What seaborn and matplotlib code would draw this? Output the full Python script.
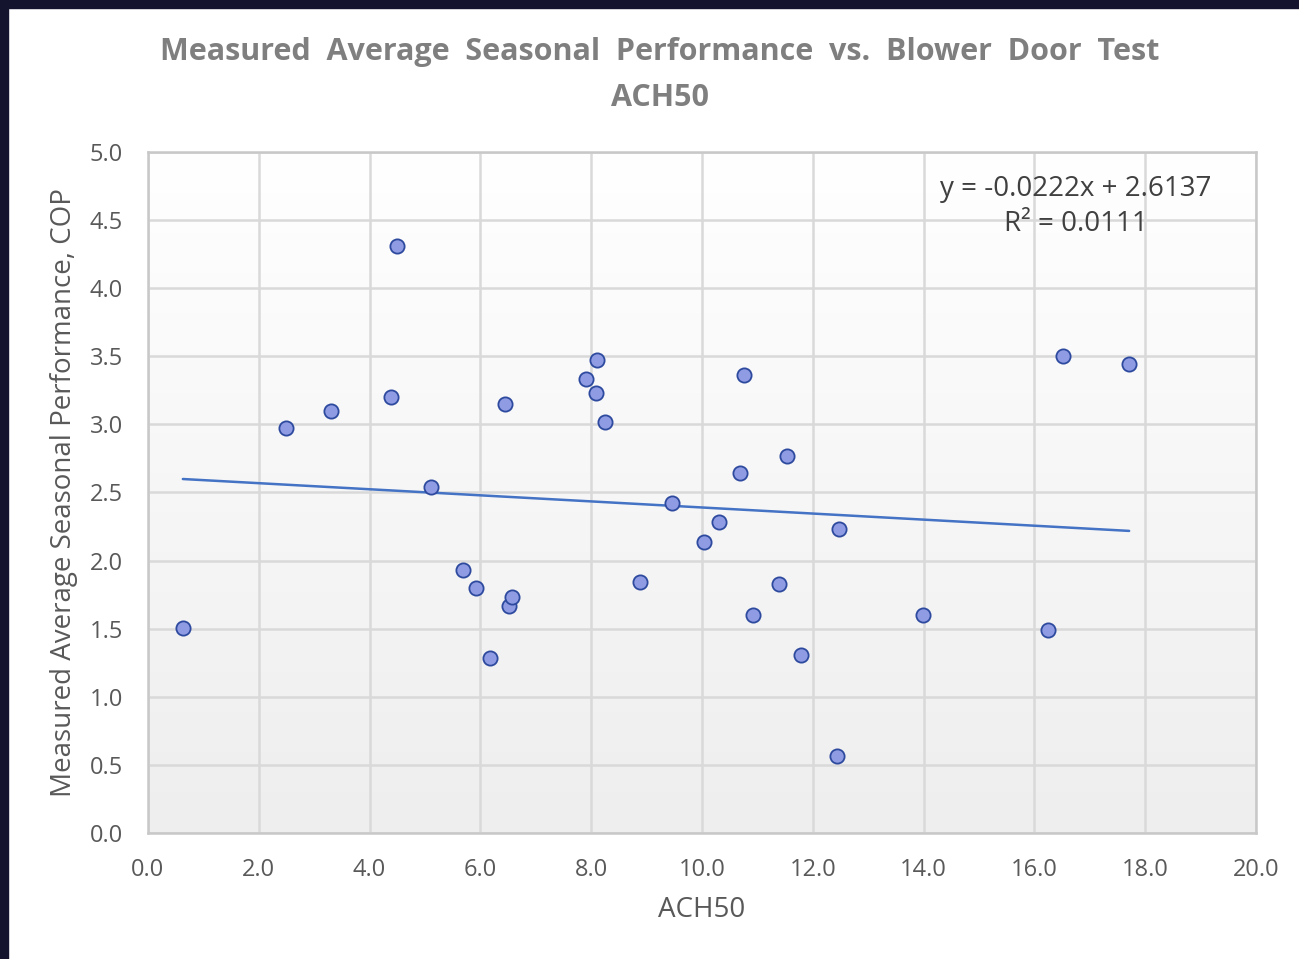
import numpy as np
import pandas as pd
import seaborn as sns
import matplotlib.pyplot as plt
from matplotlib.patches import Rectangle

# ACH50 vs measured seasonal COP
ach50 = [0.63, 2.49, 3.30, 4.39, 4.49, 5.11, 5.69, 5.92, 6.17, 6.44, 6.52,
         6.57, 7.91, 8.10, 8.09, 8.25, 8.88, 9.46, 10.04, 10.31, 10.69,
         10.76, 10.92, 11.39, 11.53, 11.79, 12.44, 12.47, 13.99, 16.25,
         16.52, 17.71]
cop = [1.505, 2.97, 3.10, 3.20, 4.31, 2.54, 1.93, 1.80, 1.285, 3.15, 1.67,
       1.73, 3.33, 3.47, 3.23, 3.02, 1.84, 2.42, 2.14, 2.28, 2.64,
       3.36, 1.60, 1.83, 2.77, 1.31, 0.565, 2.23, 1.60, 1.49,
       3.50, 3.44]
xticks = [0, 2, 4, 6, 8, 10, 12, 14, 16, 18, 20]
yticks = [0, 0.5, 1.0, 1.5, 2.0, 2.5, 3.0, 3.5, 4.0, 4.5, 5.0]
eq_text = "y = -0.0222x + 2.6137\nR² = 0.0111"

df = pd.DataFrame({"ACH50": ach50, "COP": cop})

sns.set_style("white")
plt.rcParams['font.family'] = ['Open Sans', 'DejaVu Sans']

fig = plt.figure(figsize=(12.99, 9.59), dpi=100)
fig.patch.set_facecolor("white")
# dark frame along top and left edges
fig.add_artist(Rectangle((0, 0.9915), 1, 0.0085, transform=fig.transFigure,
                         color="#14142e", zorder=10))
fig.add_artist(Rectangle((0, 0), 0.0062, 1, transform=fig.transFigure,
                         color="#14142e", zorder=10))

ax = fig.add_axes([0.1139, 0.1314, 0.853, 0.7101])

# subtle white-to-grey gradient inside plot area
grad = np.linspace(1.0, 0.0, 256).reshape(-1, 1)
ax.imshow(grad, extent=[0, 1, 0, 1], transform=ax.transAxes, aspect="auto",
          cmap=sns.blend_palette(["#eeeeee", "#ffffff"], as_cmap=True),
          vmin=0, vmax=1, zorder=0)

sns.regplot(data=df, x="ACH50", y="COP", ax=ax, ci=None, truncate=True,
            scatter_kws={"s": 105, "color": "#8f9ce3", "edgecolor": "#2e4a9e",
                         "linewidths": 1.3, "alpha": 1, "zorder": 4},
            line_kws={"color": "#4472c4", "linewidth": 1.8, "zorder": 3})

ax.set_xlim(0, 20)
ax.set_ylim(0, 5)
ax.set_xticks(xticks)
ax.set_yticks(yticks)
ax.set_xticklabels([f"{t:.1f}" for t in xticks])
ax.set_yticklabels([f"{t:.1f}" for t in yticks])
ax.grid(True, color="#d9d9d9", linewidth=1.8, zorder=1)
ax.set_axisbelow(True)
for s in ax.spines.values():
    s.set_color("#c8c8c8")
    s.set_linewidth(1.8)
ax.tick_params(colors="#595959", labelsize=17, length=0)
ax.tick_params(axis="x", pad=18)
ax.tick_params(axis="y", pad=18)

ax.set_xlabel("ACH50", fontsize=20, color="#595959", labelpad=10)
ax.set_ylabel("Measured Average Seasonal Performance, COP", fontsize=20,
              color="#595959", labelpad=8)

fig.text(0.508, 0.946, "Measured  Average  Seasonal  Performance  vs.  Blower  Door  Test",
         ha="center", va="center", fontsize=22, fontweight="bold", color="#7f7f7f")
fig.text(0.508, 0.898, "ACH50", ha="center", va="center", fontsize=22,
         fontweight="bold", color="#7f7f7f")

ax.text(16.75, 4.6, eq_text, ha="center", va="center", fontsize=20,
        color="#404040", linespacing=1.35, zorder=5)

fig.savefig("out.png", dpi=100)
